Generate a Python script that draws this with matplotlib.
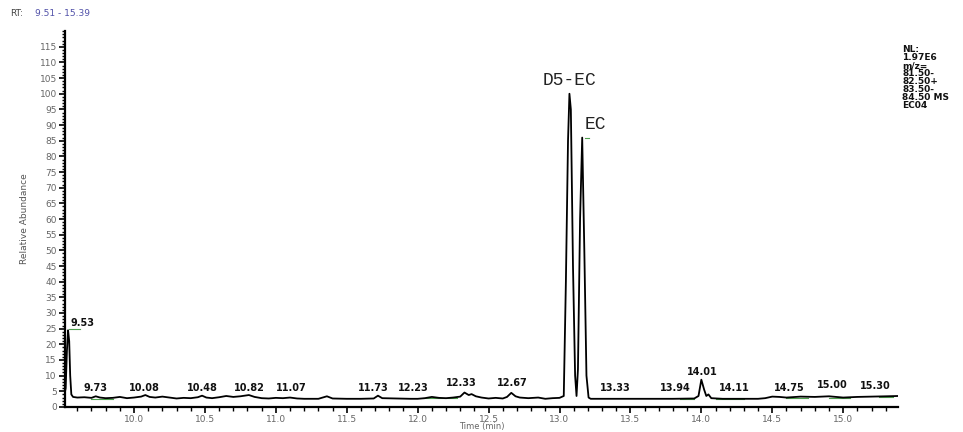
import numpy as np
import matplotlib
matplotlib.use("Agg")
import matplotlib.pyplot as plt
from matplotlib.ticker import MultipleLocator

# chromatogram trace (time [min], relative abundance)
rt = [9.51, 9.518, 9.527, 9.535, 9.543, 9.550, 9.558, 9.57, 9.60, 9.65, 9.70,
      9.73, 9.76, 9.80, 9.85, 9.90, 9.95, 10.00, 10.05, 10.08, 10.11,
      10.15, 10.20, 10.25, 10.30, 10.35, 10.40, 10.45, 10.48, 10.51, 10.55,
      10.60, 10.65, 10.70, 10.75, 10.81, 10.85, 10.90, 10.95, 11.00, 11.05,
      11.10, 11.15, 11.20, 11.30, 11.36, 11.40, 11.50, 11.60, 11.69, 11.72,
      11.75, 11.85, 11.95, 12.00, 12.05, 12.10, 12.15, 12.20, 12.25, 12.30,
      12.33, 12.36, 12.38, 12.41, 12.45, 12.50, 12.55, 12.60, 12.63, 12.66,
      12.69, 12.72, 12.78, 12.85, 12.90, 12.95, 13.00, 13.03, 13.045, 13.06,
      13.07, 13.08, 13.095, 13.11, 13.12, 13.13, 13.145, 13.16, 13.175, 13.19,
      13.205, 13.22, 13.40, 13.60, 13.80, 13.95, 13.98, 14.00, 14.02, 14.035,
      14.05, 14.07, 14.15, 14.30, 14.40, 14.45, 14.50, 14.55, 14.60, 14.70,
      14.80, 14.90, 15.00, 15.10, 15.20, 15.30, 15.39]
abund = [4.0, 6.0, 18, 24.5, 21, 10, 4, 3.2, 3.0, 3.1, 2.9,
         3.4, 3.0, 2.8, 2.9, 3.2, 2.8, 3.0, 3.3, 3.8, 3.2,
         3.0, 3.3, 3.0, 2.7, 2.9, 2.8, 3.1, 3.6, 3.0, 2.8,
         3.1, 3.5, 3.2, 3.4, 3.8, 3.2, 2.8, 2.7, 2.9, 2.8,
         3.0, 2.7, 2.6, 2.6, 3.4, 2.7, 2.6, 2.6, 2.7, 3.6,
         2.8, 2.7, 2.6, 2.6, 2.8, 3.2, 2.9, 2.8, 3.0, 3.3,
         4.6, 3.8, 4.1, 3.4, 3.0, 2.7, 2.9, 2.7, 3.2, 4.5,
         3.4, 3.0, 2.8, 3.0, 2.6, 2.8, 2.9, 3.5, 40, 85,
         100, 95, 45, 10, 3.5, 12, 60, 86, 50, 10,
         3.0, 2.6, 2.6, 2.6, 2.6, 2.7, 3.5, 8.7, 5.5, 3.5,
         4.0, 2.8, 2.6, 2.6, 2.6, 2.8, 3.3, 3.2, 3.0, 3.3,
         3.2, 3.4, 3.0, 3.2, 3.3, 3.4, 3.5]

# peak labels: text, where drawn (x, y)
lbl_text = ["9.53", "9.73", "10.08", "10.48", "10.82", "11.07", "11.73", "12.23",
            "12.33", "12.67", "13.33", "13.94", "14.01", "14.11", "14.75", "15.00", "15.30"]
lbl_x = [9.64, 9.73, 10.07, 10.48, 10.81, 11.11, 11.69, 11.97,
         12.31, 12.67, 13.39, 13.82, 14.01, 14.23, 14.62, 14.92, 15.23]
lbl_y = [26.8, 6.1, 6.1, 6.1, 6.1, 6.1, 6.1, 6.1,
         7.7, 7.7, 6.0, 6.0, 11.2, 6.0, 6.0, 7.0, 6.6]

# green integration marks
grn_x0 = [9.54, 9.70, 12.04, 13.18, 13.85, 14.10, 14.60, 14.90, 15.25]
grn_x1 = [9.62, 9.85, 12.28, 13.21, 13.95, 14.30, 14.75, 15.05, 15.35]
grn_y = [25.0, 2.6, 3.0, 86.0, 2.6, 2.6, 2.9, 3.0, 3.2]

nl_lines = ["NL:", "1.97E6", "m/z=", "81.50-", "82.50+", "83.50-", "84.50 MS", "EC04"]

fig = plt.figure(figsize=(9.63, 4.32), dpi=100, facecolor='w')
ax = fig.add_axes([0.067, 0.058, 0.866, 0.870])

for a, b, c in zip(grn_x0, grn_x1, grn_y):
    ax.plot([a, b], [c, c], color='#4f9f4f', lw=0.8, zorder=2)
ax.plot(rt, abund, color='k', lw=1.3, zorder=3)

for t, x, y in zip(lbl_text, lbl_x, lbl_y):
    ax.text(x, y, t, ha='center', va='center', fontsize=7, fontweight='bold', color='#111111')

ax.text(13.07, 101.5, "D5-EC", ha='center', va='bottom', fontsize=13, family='Liberation Mono', color='#222222')
ax.text(13.25, 87.5, "EC", ha='center', va='bottom', fontsize=13, family='Liberation Mono', color='#222222')

ax.set_xlim(9.51, 15.39)
ax.set_ylim(0, 120)
ax.xaxis.set_major_locator(MultipleLocator(0.5))
ax.xaxis.set_minor_locator(MultipleLocator(0.1))
ax.yaxis.set_minor_locator(MultipleLocator(1))
ax.set_yticks(np.arange(0, 120, 5))
ax.xaxis.set_major_formatter(plt.FuncFormatter(lambda v, p: "%.1f" % v))

ax.spines['top'].set_visible(False)
ax.spines['right'].set_visible(False)
ax.spines['left'].set_linewidth(1.6)
ax.spines['bottom'].set_linewidth(1.6)
ax.tick_params(axis='both', which='major', direction='out', length=4, width=1.2,
               labelsize=6.5, labelcolor='#666666', pad=1.5)
ax.tick_params(axis='y', which='minor', direction='out', length=2.5, width=1.0)
ax.tick_params(axis='x', which='minor', direction='out', length=3, width=1.0)

ax.set_ylabel("Relative Abundance", fontsize=6.5, color='#555555', labelpad=8)
fig.text(0.50, 0.012, "Time (min)", fontsize=6, color='#666666', ha='center', va='center')

fig.text(0.010, 0.968, "RT:", fontsize=6.5, color='#444444', va='center')
fig.text(0.036, 0.968, "9.51 - 15.39", fontsize=6.5, color='#5050a8', va='center')
fig.text(0.937, 0.895, "\n".join(nl_lines), fontsize=6.5, fontweight='bold',
         va='top', ha='left', linespacing=0.85, color='#111111')

fig.savefig("out.png", dpi=100, facecolor='w')
